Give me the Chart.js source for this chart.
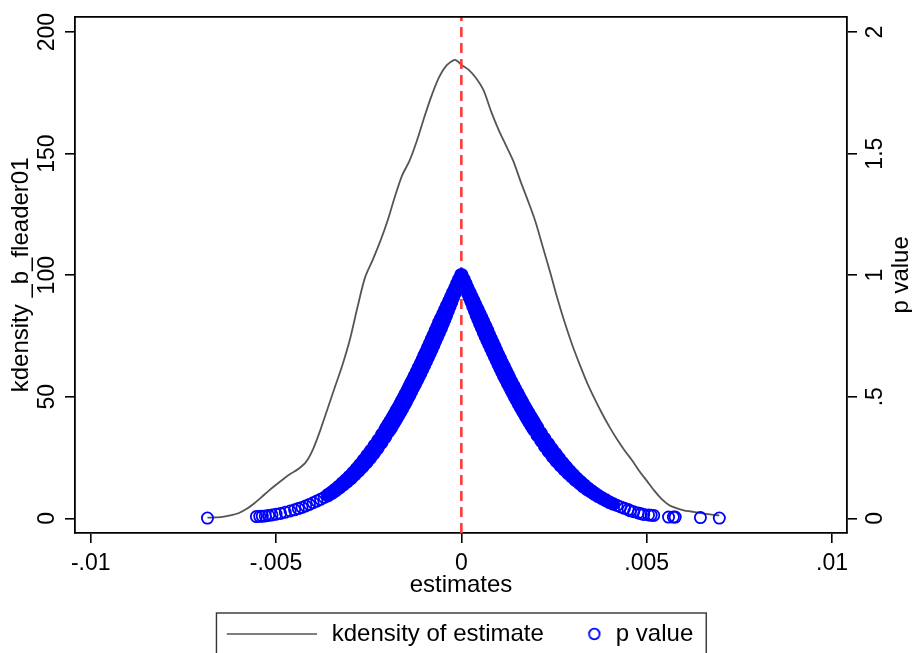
<!DOCTYPE html>
<html>
<head>
<meta charset="utf-8">
<script src="https://cdn.jsdelivr.net/npm/chart.js@4"></script>
<style>
html,body{margin:0;padding:0;background:#ffffff;}
canvas{display:block;}
</style>
</head>
<body>
<canvas id="c" width="912" height="653"></canvas>
<script>
// ---------- data ----------
// kernel density of the estimates (left axis)
const kdX = [-0.00685,-0.0066,-0.0064,-0.0062,-0.0060,-0.0058,-0.0056,-0.0054,-0.0052,-0.0050,-0.0048,-0.0046,-0.0044,-0.0042,-0.0040,-0.0038,-0.0036,-0.0034,-0.0032,-0.0030,-0.0028,-0.0026,-0.0024,-0.0022,-0.0020,-0.0018,-0.0016,-0.0014,-0.0012,-0.0010,-0.0008,-0.0006,-0.0004,-0.0002,-0.0001,0,0.0002,0.0004,0.0006,0.0008,0.0010,0.0012,0.0014,0.0016,0.0018,0.0020,0.0022,0.0024,0.0026,0.0028,0.0030,0.0032,0.0034,0.0036,0.0038,0.0040,0.0042,0.0044,0.0046,0.0048,0.0050,0.0052,0.0054,0.0056,0.0058,0.0060,0.0062,0.0064,0.0066,0.0068,0.00696];
const kdY = [0.3,0.4,0.7,1.3,2.2,3.8,6.0,8.6,11.3,13.8,16.2,18.4,20.3,23.0,28.5,36.5,45.5,54.5,63.5,74.0,87.0,99.0,106.0,113.5,122.0,132.0,141.0,147.0,155.3,165.0,174.0,181.5,186.3,188.5,188.0,186.5,184.5,181.0,176.0,167.5,160.0,153.5,147.0,138.5,130.5,122.0,111.5,101.0,90.0,80.0,71.0,63.0,55.5,49.0,43.0,37.5,32.5,28.0,24.0,19.5,15.5,11.5,8.0,5.5,4.2,3.3,2.8,2.3,1.8,1.4,1.2];

// p values (right axis): dense central band of estimates
const bandX = [-0.0036,-0.0035,-0.0034,-0.0033,-0.0032,-0.0031,-0.0030,-0.0029,-0.0028,-0.0027,-0.0026,-0.0025,-0.0024,-0.0023,-0.0022,-0.0021,-0.0020,
  -0.00195,-0.0019,-0.00185,-0.0018,-0.00175,-0.0017,-0.00165,-0.0016,-0.00155,-0.0015,-0.00145,-0.0014,-0.00135,-0.0013,-0.00125,-0.0012,-0.00115,-0.0011,-0.00105,-0.0010,
  -0.00095,-0.0009,-0.00085,-0.0008,-0.00075,-0.0007,-0.00065,-0.0006,-0.00055,-0.0005,-0.00045,-0.0004,-0.00035,-0.0003,-0.00025,-0.0002,-0.00015,-0.0001,-0.00005,0,
  0.00005,0.0001,0.00015,0.0002,0.00025,0.0003,0.00035,0.0004,0.00045,0.0005,0.00055,0.0006,0.00065,0.0007,0.00075,0.0008,0.00085,0.0009,0.00095,0.0010,
  0.00105,0.0011,0.00115,0.0012,0.00125,0.0013,0.00135,0.0014,0.00145,0.0015,0.00155,0.0016,0.00165,0.0017,0.00175,0.0018,0.00185,0.0019,0.00195,0.0020,
  0.0021,0.0022,0.0023,0.0024,0.0025,0.0026,0.0027,0.0028,0.0029,0.0030,0.0031,0.0032,0.0033,0.0034,0.0035,0.0036,0.0037,0.0038,0.0039,0.0040,0.0041];
const bandP = [0.095,0.105,0.116,0.128,0.141,0.154,0.168,0.183,0.199,0.216,0.234,0.253,0.273,0.294,0.316,0.339,0.363,
  0.375,0.388,0.400,0.413,0.426,0.440,0.453,0.467,0.481,0.496,0.510,0.525,0.540,0.555,0.570,0.585,0.601,0.617,0.633,0.649,
  0.666,0.682,0.699,0.716,0.733,0.750,0.768,0.785,0.803,0.820,0.838,0.856,0.874,0.892,0.910,0.928,0.946,0.964,0.982,1.000,
  0.982,0.964,0.946,0.928,0.910,0.893,0.875,0.857,0.839,0.822,0.804,0.787,0.770,0.752,0.735,0.719,0.702,0.685,0.669,0.653,
  0.636,0.621,0.605,0.589,0.574,0.559,0.544,0.530,0.515,0.501,0.487,0.473,0.459,0.446,0.433,0.420,0.407,0.395,0.382,0.370,
  0.346,0.323,0.301,0.280,0.260,0.241,0.223,0.206,0.190,0.175,0.160,0.147,0.134,0.122,0.111,0.101,0.091,0.082,0.074,0.066,0.059];

// p values: sparse tails (individual hollow circles)
const tailX = [-0.00685,-0.00553,-0.00544,-0.00537,-0.00529,-0.0052,-0.00511,-0.005,-0.00488,-0.00475,-0.00462,-0.0045,-0.0044,-0.0043,-0.0042,-0.0041,-0.0040,-0.0039,-0.0038,-0.0037,
  0.0042,0.0043,0.0044,0.0045,0.00456,0.00465,0.00477,0.00485,0.00492,0.00505,0.00512,0.00519,0.00559,0.00572,0.00577,0.00645,0.00696];
const tailP = [0.001,0.007,0.008,0.009,0.010,0.012,0.014,0.017,0.020,0.025,0.030,0.035,0.040,0.045,0.051,0.057,0.064,0.071,0.078,0.086,
  0.053,0.047,0.041,0.036,0.031,0.027,0.022,0.019,0.016,0.014,0.013,0.012,0.005,0.005,0.005,0.003,0.001];

// reference line
const xLineAt = [0];

// ticks and labels
const xTickValues = [-0.01,-0.005,0,0.005,0.01];
const xTickLabels = ['-.01','-.005','0','.005','.01'];
const yTickValues = [0,50,100,150,200];
const yTickLabels = ['0','50','100','150','200'];
const pTickValues = [0,0.5,1,1.5,2];
const pTickLabels = ['0','.5','1','1.5','2'];
const seriesLabels = ['kdensity of estimate','p value'];
const axisTitles = {x:'estimates', y:'kdensity _b_fleader01', y2:'p value'};

// axis ranges
const X_MIN = -0.010424, X_MAX = 0.010405;
const Y_MIN = -6.04, Y_MAX = 206.3;
const P_MIN = -0.0604, P_MAX = 2.063;

// ---------- styling ----------
const FAMILY = "'Liberation Sans', Arial, Helvetica, sans-serif";
const GRAY = '#555555';
const RED = '#ff3a3a';
const BLUE = '#0000ff';
Chart.defaults.font.family = FAMILY;
Chart.defaults.color = '#000';

function mkCanvas(w, h, draw) {
  const c = document.createElement('canvas');
  c.width = w; c.height = h;
  draw(c.getContext('2d'));
  return c;
}
const legendLineImg = mkCanvas(157, 4, g => {
  g.strokeStyle = GRAY; g.lineWidth = 1.7;
  g.beginPath(); g.moveTo(67, 2); g.lineTo(157, 2); g.stroke();
});
const legendCircleImg = mkCanvas(16, 16, g => {
  g.strokeStyle = BLUE; g.lineWidth = 1.8;
  g.beginPath(); g.arc(8, 8, 5.3, 0, Math.PI * 2); g.stroke();
});
const blankImg = mkCanvas(1, 1, g => {});

const kdData = kdX.map((x, i) => ({x: x, y: kdY[i]}));
const pData = bandX.map((x, i) => ({x: x, y: bandP[i]}))
  .concat(tailX.map((x, i) => ({x: x, y: tailP[i]})));
const pFill = bandX.map(() => BLUE).concat(tailX.map(() => 'rgba(0,0,0,0)'));
// the band of overlapping circles is widest where the estimates spread most,
// narrower at the peak and toward the sparse tails
const bandRadius = p => (p > 0.8 ? 8 - (p - 0.8) * 8 : (p < 0.25 ? 5.8 + (p - 0.05) * 11 : 8));
const pRadius = bandP.map(bandRadius).concat(tailX.map(() => 5.6));
const xLineData = [{x: xLineAt[0], y: Y_MIN}, {x: xLineAt[0], y: Y_MAX}];

const gridOpts = {display: true, drawOnChartArea: false, drawTicks: true, tickLength: 10,
  tickWidth: 1.6, tickColor: '#000', color: '#000', lineWidth: 1.6};
const borderOpts = {display: true, color: '#000', width: 1.8};

const decor = {
  id: 'decor',
  afterDraw(chart) {
    const ctx = chart.ctx, a = chart.chartArea;
    ctx.save();
    // top edge of the plot region box
    ctx.strokeStyle = '#000'; ctx.lineWidth = 1.8;
    ctx.beginPath(); ctx.moveTo(a.left, a.top); ctx.lineTo(a.right, a.top); ctx.stroke();
    // right axis title, reading bottom to top
    const y2 = chart.scales.y2;
    ctx.fillStyle = '#000';
    ctx.font = '24px ' + FAMILY;
    ctx.textAlign = 'center'; ctx.textBaseline = 'middle';
    ctx.translate(y2.right - 11, (a.top + a.bottom) / 2);
    ctx.rotate(-Math.PI / 2);
    ctx.fillText(y2.options.title.text, 0, 0);
    ctx.restore();
    // legend frame
    const hb = chart.legend.legendHitBoxes;
    if (hb && hb.length) {
      const first = hb[0], last = hb[hb.length - 1];
      const l = first.left - 12.3, t = first.top - 9;
      const r = last.left + last.width + 13;
      ctx.save();
      ctx.strokeStyle = '#333'; ctx.lineWidth = 1.4;
      ctx.strokeRect(l, t, r - l, chart.height + 10 - t);
      ctx.restore();
    }
  }
};

new Chart(document.getElementById('c'), {
  type: 'scatter',
  data: {
    datasets: [
      {type: 'line', label: seriesLabels[0], data: kdData, xAxisID: 'x', yAxisID: 'y',
        borderColor: GRAY, borderWidth: 1.8, pointRadius: 0, tension: 0.3, fill: false, order: 3},
      {type: 'line', label: 'xline', data: xLineData, xAxisID: 'x', yAxisID: 'y',
        borderColor: RED, borderWidth: 2.6, borderDash: [10, 6], pointRadius: 0, fill: false, order: 2},
      {type: 'scatter', label: seriesLabels[1], data: pData, xAxisID: 'x', yAxisID: 'y2',
        pointRadius: pRadius, pointBorderWidth: 1.8, pointBorderColor: BLUE, borderColor: BLUE,
        pointBackgroundColor: pFill, order: 1}
    ]
  },
  options: {
    responsive: false,
    animation: false,
    events: [],
    layout: {padding: {top: 16, bottom: -3, left: 0, right: 0}},
    plugins: {
      tooltip: {enabled: false},
      legend: {
        position: 'bottom',
        fullSize: false,
        labels: {
          usePointStyle: true, boxWidth: 19, padding: 41,
          font: {size: 24}, color: '#000',
          generateLabels: () => [
            {text: '', pointStyle: legendLineImg, fillStyle: 'rgba(0,0,0,0)', strokeStyle: 'rgba(0,0,0,0)', lineWidth: 0, hidden: false, fontColor: '#000', datasetIndex: 0},
            {text: seriesLabels[0], pointStyle: blankImg, fillStyle: 'rgba(0,0,0,0)', strokeStyle: 'rgba(0,0,0,0)', lineWidth: 0, hidden: false, fontColor: '#000', datasetIndex: 0},
            {text: seriesLabels[1], pointStyle: legendCircleImg, fillStyle: 'rgba(0,0,0,0)', strokeStyle: 'rgba(0,0,0,0)', lineWidth: 0, hidden: false, fontColor: '#000', datasetIndex: 2}
          ]
        }
      }
    },
    scales: {
      x: {
        type: 'linear', position: 'bottom', min: X_MIN, max: X_MAX,
        afterBuildTicks: s => { s.ticks = xTickValues.map(v => ({value: v})); },
        afterFit: s => { s.height = 48; },
        ticks: {callback: (v, i) => xTickLabels[i], font: {size: 23}, color: '#000',
          padding: 7.2, maxRotation: 0, minRotation: 0, autoSkip: false},
        grid: gridOpts, border: borderOpts,
        title: {display: true, text: axisTitles.x, font: {size: 24}, color: '#000', padding: {top: 0, bottom: -19.1}}
      },
      y: {
        type: 'linear', position: 'left', min: Y_MIN, max: Y_MAX,
        afterBuildTicks: s => { s.ticks = yTickValues.map(v => ({value: v})); },
        afterFit: s => { s.width = 75; },
        ticks: {callback: (v, i) => yTickLabels[i], font: {size: 23}, color: '#000',
          minRotation: 90, maxRotation: 90, crossAlign: 'center', padding: -1.7, autoSkip: false},
        grid: gridOpts, border: borderOpts,
        title: {display: true, text: axisTitles.y, font: {size: 24}, color: '#000', padding: {top: 6.6, bottom: 0}}
      },
      y2: {
        type: 'linear', position: 'right', min: P_MIN, max: P_MAX,
        afterBuildTicks: s => { s.ticks = pTickValues.map(v => ({value: v})); },
        afterFit: s => { s.width = 65; },
        ticks: {callback: (v, i) => pTickLabels[i], font: {size: 23}, color: '#000',
          minRotation: 90, maxRotation: 90, crossAlign: 'center', padding: 3, autoSkip: false},
        grid: gridOpts, border: borderOpts,
        title: {display: false, text: axisTitles.y2, font: {size: 24}, color: '#000'}
      }
    }
  },
  plugins: [decor]
});
</script>
</body>
</html>
